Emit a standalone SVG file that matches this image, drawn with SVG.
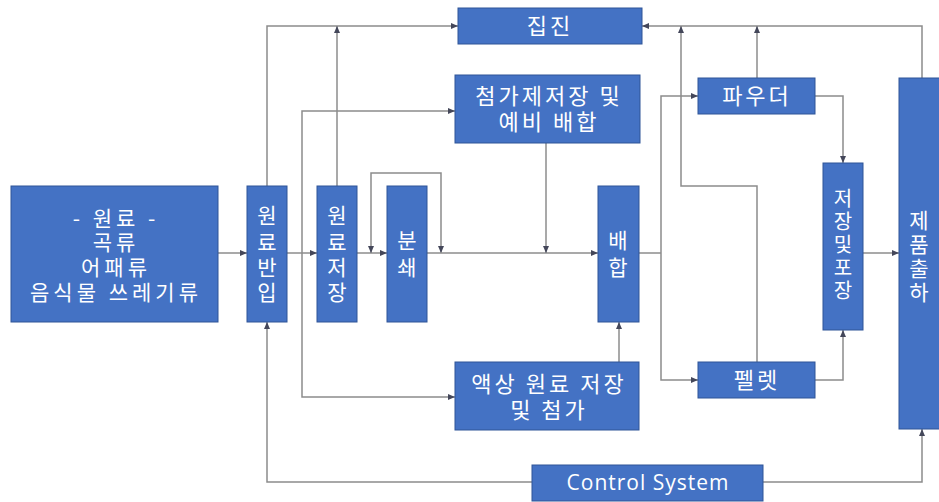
<svg xmlns="http://www.w3.org/2000/svg" width="939" height="502" viewBox="0 0 939 502">
<defs>
<marker id="ah" markerWidth="7" markerHeight="6" refX="7" refY="3" orient="auto-start-reverse" markerUnits="userSpaceOnUse">
<path d="M0,0 L7,3 L0,6 z" fill="#44475a"/>
</marker>
<style>
.box{fill:#4472C4;stroke:#2F5597;stroke-width:1}
.t{fill:#ffffff;font-family:"Noto Sans CJK KR","Noto Sans",sans-serif;font-size:22px;letter-spacing:3px;text-anchor:middle}
.r{fill:#ffffff;font-family:"Noto Sans CJK KR","Noto Sans",sans-serif;font-size:21px;letter-spacing:4px;text-anchor:middle}
.v{fill:#ffffff;font-family:"Noto Sans CJK KR","Noto Sans",sans-serif;font-size:21px;text-anchor:middle}
.s{fill:#ffffff;font-family:"Noto Sans CJK KR","Noto Sans",sans-serif;font-size:20px;text-anchor:middle}
.e{fill:#ffffff;font-family:"Open Sans","Noto Sans",sans-serif;font-size:21px;letter-spacing:1px;text-anchor:middle}
.c{fill:none;stroke:#8c8c8c;stroke-width:1.5}
.a{marker-end:url(#ah)}
</style>
</defs>
<rect width="939" height="502" fill="#ffffff"/>
<g id="connectors">
<path class="c a" d="M218,253 H247"/>
<path class="c a" d="M287,253 H317"/>
<path class="c a" d="M357,253 H387"/>
<path class="c a" d="M371,253 V173 H441 V253" marker-start="url(#ah)"/>
<path class="c a" d="M427,253 H598"/>
<path class="c a" d="M546,143 V253"/>
<path class="c a" d="M267,186 V26 H458"/>
<path class="c a" d="M337,186 V26"/>
<path class="c a" d="M302,253 V111 H455"/>
<path class="c a" d="M302,253 V397 H455"/>
<path class="c a" d="M532,482 H267 V322"/>
<path class="c a" d="M763,482 H922 V429"/>
<path class="c" d="M639,253 H661"/>
<path class="c a" d="M661,253 V96 H698"/>
<path class="c a" d="M661,253 V380 H698"/>
<path class="c a" d="M619,362 V322"/>
<path class="c a" d="M815,96 H843 V163"/>
<path class="c a" d="M815,380 H843 V330"/>
<path class="c a" d="M863,253 H899"/>
<path class="c a" d="M922,78 V26 H642"/>
<path class="c a" d="M757,78 V26"/>
<path class="c a" d="M757,362 V186 H681 V26"/>
</g>
<g id="raw">
<rect class="box" x="11" y="186" width="207" height="136"/>
<text class="r" x="116" y="226">-  원료 -</text>
<text class="r" x="116" y="250">곡류</text>
<text class="r" x="116" y="275">어패류</text>
<text class="r" x="116" y="300">음식물 쓰레기류</text>
</g>
<g id="intake">
<rect class="box" x="247" y="186" width="40" height="136"/>
<text class="v" x="267"><tspan x="267" y="223">원</tspan><tspan x="267" y="250">료</tspan><tspan x="267" y="275">반</tspan><tspan x="267" y="300">입</tspan></text>
</g>
<g id="storage">
<rect class="box" x="317" y="186" width="40" height="136"/>
<text class="v" x="337"><tspan x="337" y="223">원</tspan><tspan x="337" y="250">료</tspan><tspan x="337" y="275">저</tspan><tspan x="337" y="300">장</tspan></text>
</g>
<g id="grind">
<rect class="box" x="387" y="186" width="40" height="136"/>
<text class="v" x="407"><tspan x="407" y="248">분</tspan><tspan x="407" y="275">쇄</tspan></text>
</g>
<g id="dust">
<rect class="box" x="458" y="8" width="184" height="36"/>
<text class="t" x="550" y="34">집진</text>
</g>
<g id="additive">
<rect class="box" x="455" y="75" width="185" height="68"/>
<text class="t" x="549" y="104">첨가제저장 및</text>
<text class="t" x="549" y="130">예비 배합</text>
</g>
<g id="mix">
<rect class="box" x="598" y="186" width="41" height="136"/>
<text class="v" x="618"><tspan x="618" y="248">배</tspan><tspan x="618" y="275">합</tspan></text>
</g>
<g id="liquid">
<rect class="box" x="455" y="362" width="184" height="68"/>
<text class="t" x="549" y="392">액상 원료 저장</text>
<text class="t" x="549" y="418">및 첨가</text>
</g>
<g id="powder">
<rect class="box" x="698" y="78" width="117" height="36"/>
<text class="t" x="757" y="104">파우더</text>
</g>
<g id="pellet">
<rect class="box" x="698" y="362" width="117" height="36"/>
<text class="t" x="757" y="388">펠렛</text>
</g>
<g id="pack">
<rect class="box" x="823" y="163" width="40" height="167"/>
<text class="s" x="843"><tspan x="843" y="206">저</tspan><tspan x="843" y="229">장</tspan><tspan x="843" y="252">및</tspan><tspan x="843" y="275">포</tspan><tspan x="843" y="298">장</tspan></text>
</g>
<g id="ship">
<rect class="box" x="899" y="78" width="41" height="351"/>
<text class="v" x="919"><tspan x="919" y="228">제</tspan><tspan x="919" y="252">품</tspan><tspan x="919" y="276">출</tspan><tspan x="919" y="300">하</tspan></text>
</g>
<g id="control">
<rect class="box" x="532" y="465" width="231" height="36"/>
<text class="e" x="648" y="490">Control System</text>
</g>
</svg>
